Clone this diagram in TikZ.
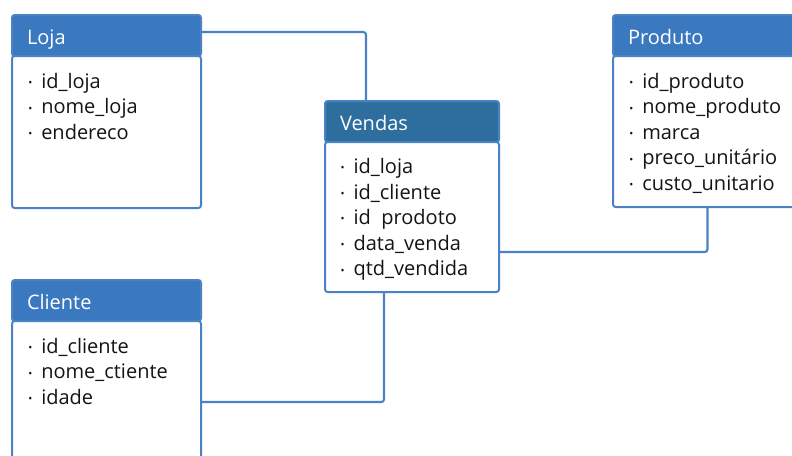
\documentclass[tikz,border=0pt]{standalone}
\usepackage{fontspec}
\setmainfont{Open Sans}
\usetikzlibrary{positioning}
\definecolor{tabblue}{HTML}{3A78C0}
\definecolor{vendblue}{HTML}{2E6E9E}
\definecolor{tabline}{HTML}{4A82C4}
\definecolor{tabtext}{HTML}{141414}
\newcommand{\ponto}{\makebox[9.75pt][l]{\raisebox{1.3pt}{\footnotesize\textbullet}}}
\tikzset{
  every node/.style={font=\fontsize{15}{19.2}\selectfont},
  tabhead/.style={draw=tabline, line width=1.5pt, fill=tabblue, text=white,
    anchor=north west, outer sep=0pt, inner xsep=11.25pt, align=left,
    minimum height=30.75pt, text height=15pt, text depth=2pt,
    rounded corners=2pt},
  tabbody/.style={draw=tabline, line width=1.5pt, fill=white, outer sep=0pt,
    rounded corners=2pt},
  tablist/.style={anchor=north west, inner sep=0pt, align=left, text=tabtext},
  rel/.style={draw=tabline, line width=1.6pt, rounded corners=2pt},
}

\begin{document}
\begin{tikzpicture}[x=0.75pt, y=-0.75pt]
	\useasboundingbox (0,0) rectangle (792,455);
	\clip (0,0) rectangle (792,455);

	% tables
	\node[tabhead, minimum width=141.75pt, text width=119.25pt] (lojaH) at (12,15) {Loja};
	\node[tabbody, minimum width=141.75pt, minimum height=114pt, below=0pt of lojaH] (loja) {};
	\node[tablist, below right=12.5pt and 12pt of loja.north west] (lojaL)
		{\ponto id\_loja\\ \ponto nome\_loja\\ \ponto endereco};

	\node[tabhead, fill=vendblue, minimum width=130.5pt, text width=108pt] (vendasH) at (325,101) {Vendas};
	\node[tabbody, minimum width=130.5pt, minimum height=112.5pt, below=0pt of vendasH] (vendas) {};
	\node[tablist, below right=12pt and 11.5pt of vendas.north west] (vendasL)
		{\ponto id\_loja\\ \ponto id\_cliente\\ \ponto id\ \ prodoto\\ \ponto data\_venda\\ \ponto qtd\_vendida};

	\node[tabhead, minimum width=141.75pt, text width=119.25pt] (produtoH) at (613,15) {Produto};
	\node[tabbody, minimum width=141.75pt, minimum height=113.25pt, below=0pt of produtoH] (produto) {};
	\node[tablist, below right=12.5pt and 12pt of produto.north west] (produtoL)
		{\ponto id\_produto\\ \ponto nome\_produto\\ \ponto marca\\ \ponto preco\_unitário\\ \ponto custo\_unitario};

	\node[tabhead, minimum width=141.75pt, text width=119.25pt] (clienteH) at (12,280) {Cliente};
	\node[tabbody, minimum width=141.75pt, minimum height=112.5pt, below=0pt of clienteH] (cliente) {};
	\node[tablist, below right=12.5pt and 12pt of cliente.north west] (clienteL)
		{\ponto id\_cliente\\ \ponto nome\_ctiente\\ \ponto idade};

	% relations
	\draw[rel] ([yshift=2.6pt]lojaH.east) -| ([xshift=30.75pt]vendasH.north west);
	\draw[rel] ([yshift=30pt]vendas.south east) -| (produto.south);
	\draw[rel] ([yshift=-60.75pt]cliente.north east) -| ([xshift=44.25pt]vendas.south west);

\end{tikzpicture}
\end{document}
